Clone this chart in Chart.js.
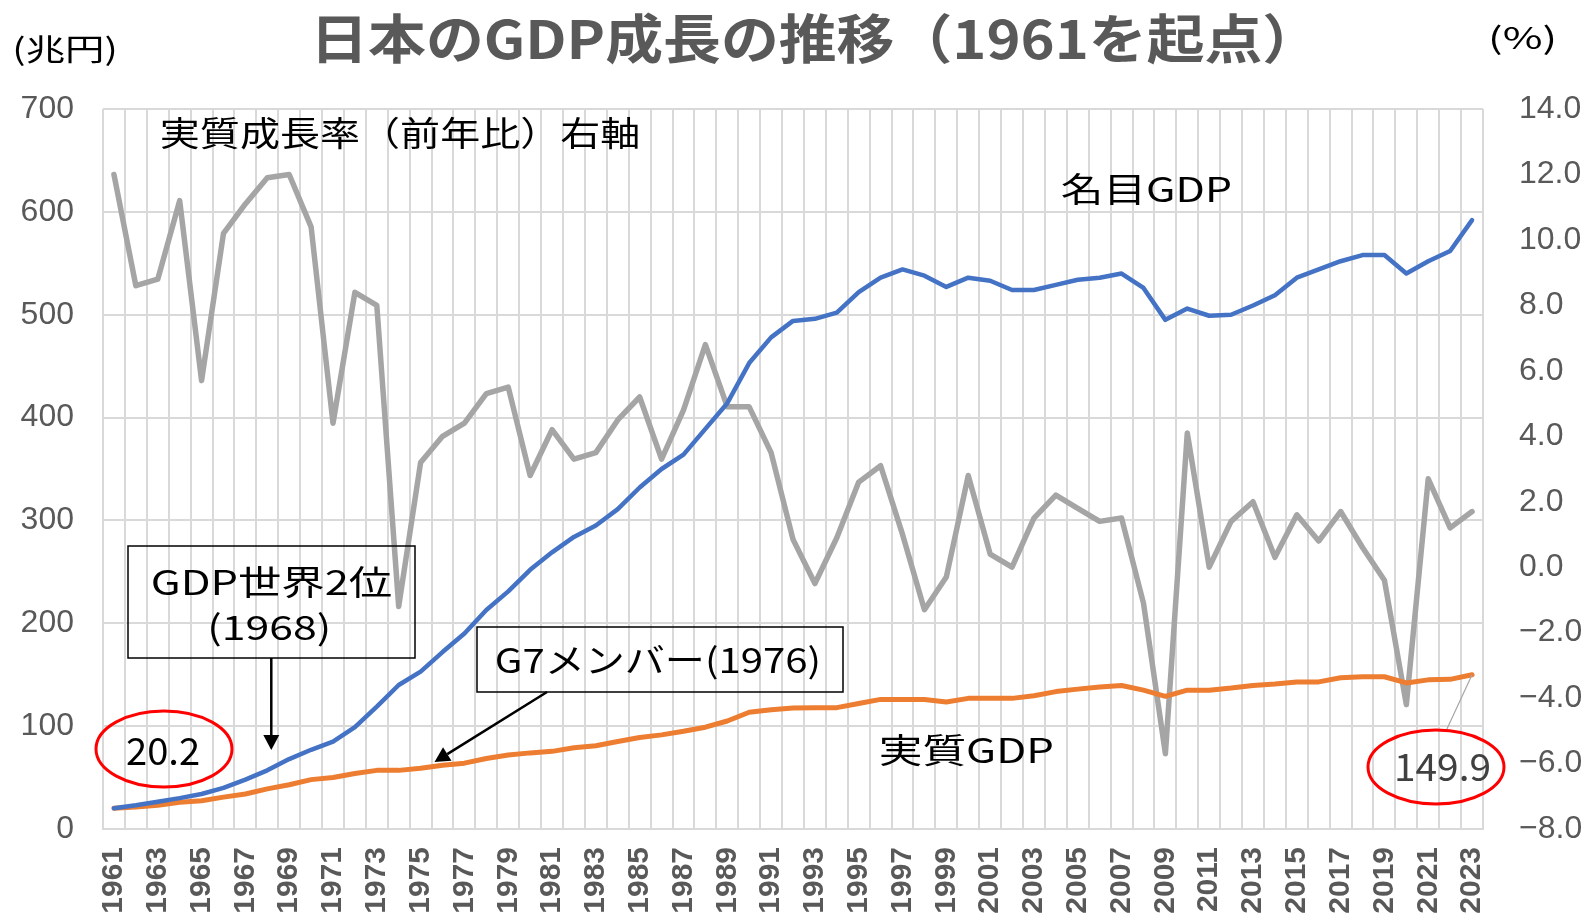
<!DOCTYPE html>
<html>
<head>
    <meta charset="UTF-8">
    <title>日本のGDP成長の推移</title>
    <script src="https://cdn.jsdelivr.net/npm/chart.js"></script>
    <style>
        html, body { margin: 0; padding: 0; background: #fff; }
        #wrap { width: 1583px; height: 915px; position: relative; }
    </style>
</head>

<body>
    <div id="wrap">
        <canvas id="gdpChart"></canvas>
    </div>

    <script>
        // 年（カテゴリ）
        const years = [
            '1961', '1962', '1963', '1964', '1965', '1966', '1967', '1968', '1969', '1970',
            '1971', '1972', '1973', '1974', '1975', '1976', '1977', '1978', '1979', '1980',
            '1981', '1982', '1983', '1984', '1985', '1986', '1987', '1988', '1989', '1990',
            '1991', '1992', '1993', '1994', '1995', '1996', '1997', '1998', '1999', '2000',
            '2001', '2002', '2003', '2004', '2005', '2006', '2007', '2008', '2009', '2010',
            '2011', '2012', '2013', '2014', '2015', '2016', '2017', '2018', '2019', '2020',
            '2021', '2022', '2023'
        ];

        // 名目GDP（兆円）
        const nominalGdp = [
            20.2, 23, 26.5, 30, 34, 40, 48, 57, 68, 77,
            85, 99, 119, 140, 153, 172, 190, 213, 231, 252,
            269, 284, 295, 311, 332, 350, 364, 389, 414, 453,
            478, 494, 496, 502, 522, 536, 544, 538, 527, 536,
            533, 524, 524, 529, 534, 536, 540, 526, 495, 506,
            499, 500, 509, 519, 536, 544, 552, 558, 558, 540,
            552, 562, 592
        ];

        // 実質GDP（兆円, 1961を起点）
        const realGdp = [
            20.2, 21.5, 23, 26, 27.5, 31, 34, 39, 43, 48,
            50, 54, 57, 57, 59, 62, 64, 68.6, 72, 74,
            75.5, 79, 81, 85, 89, 91.5, 95, 99, 105, 113.5,
            116, 117.6, 118, 118, 122, 126, 126, 126, 123.5, 127,
            127, 127, 129.5, 133.6, 136, 138, 139.5, 135, 129, 135,
            135, 137, 139.5, 141, 143, 143, 147, 148, 148, 142,
            145, 145.5, 149.9
        ];

        // 実質成長率（前年比, %）右軸
        const realGrowth = [
            12.0, 8.6, 8.8, 11.2, 5.7, 10.2, 11.1, 11.9, 12.0, 10.4,
            4.4, 8.4, 8.0, -1.2, 3.2, 4.0, 4.4, 5.3, 5.5, 2.8,
            4.2, 3.3, 3.5, 4.5, 5.2, 3.3, 4.8, 6.8, 4.9, 4.9,
            3.5, 0.85, -0.5, 0.9, 2.6, 3.1, 1.0, -1.3, -0.3, 2.8,
            0.4, 0.0, 1.5, 2.2, 1.8, 1.4, 1.5, -1.1, -5.7, 4.1,
            0.0, 1.4, 2.0, 0.3, 1.6, 0.8, 1.7, 0.6, -0.4, -4.2,
            2.7, 1.2, 1.7
        ];

        const leftTicks = [0, 100, 200, 300, 400, 500, 600, 700];
        const rightTicks = [-8, -6, -4, -2, 0, 2, 4, 6, 8, 10, 12, 14];

        const CJK = '"Noto Sans CJK JP", "Noto Sans", sans-serif';

        // glyph extents x0..x1, vertical glyph centre cy
        function drawText(ctx, text, o) {
            ctx.save();
            ctx.font = (o.bold ? 'bold ' : '') + o.size + 'px ' + CJK;
            ctx.fillStyle = o.color || '#000';
            ctx.textAlign = 'left';
            ctx.textBaseline = 'alphabetic';
            const m = ctx.measureText(text);
            const gl = -m.actualBoundingBoxLeft;
            const gw = m.actualBoundingBoxRight + m.actualBoundingBoxLeft;
            const sx = (o.x1 - o.x0) / gw;
            const base = o.cy + (m.actualBoundingBoxAscent - m.actualBoundingBoxDescent) / 2;
            ctx.translate(o.x0 - gl * sx, base);
            ctx.scale(sx, 1);
            ctx.fillText(text, 0, 0);
            ctx.restore();
        }

        function arrow(ctx, x0, y0, x1, y1) {
            const a = Math.atan2(y1 - y0, x1 - x0);
            const len = 15, half = 8;
            ctx.save();
            ctx.strokeStyle = '#000';
            ctx.fillStyle = '#000';
            ctx.lineWidth = 2.5;
            ctx.beginPath();
            ctx.moveTo(x0, y0);
            ctx.lineTo(x1 - Math.cos(a) * len, y1 - Math.sin(a) * len);
            ctx.stroke();
            ctx.beginPath();
            ctx.moveTo(x1, y1);
            ctx.lineTo(x1 - Math.cos(a) * len - Math.sin(a) * half, y1 - Math.sin(a) * len + Math.cos(a) * half);
            ctx.lineTo(x1 - Math.cos(a) * len + Math.sin(a) * half, y1 - Math.sin(a) * len - Math.cos(a) * half);
            ctx.closePath();
            ctx.fill();
            ctx.restore();
        }

        function ellipse(ctx, cx, cy, rx, ry) {
            ctx.save();
            ctx.strokeStyle = '#ff0000';
            ctx.lineWidth = 3;
            ctx.beginPath();
            ctx.ellipse(cx, cy, rx, ry, 0, 0, Math.PI * 2);
            ctx.stroke();
            ctx.restore();
        }

        function box(ctx, x0, y0, x1, y1) {
            ctx.save();
            ctx.strokeStyle = '#000';
            ctx.lineWidth = 1.5;
            ctx.strokeRect(x0, y0, x1 - x0, y1 - y0);
            ctx.restore();
        }

        const notesPlugin = {
            id: 'notes',
            afterDatasetsDraw(chart) {
                const { ctx, scales: { x, y } } = chart;
                const last = years.length - 1;

                // title and axis units
                drawText(ctx, '日本のGDP成長の推移（1961を起点）', { x0: 319, x1: 1282, cy: 38.5, size: 53, bold: true, color: '#595959' });
                drawText(ctx, '(兆円)', { x0: 15, x1: 115, cy: 50, size: 30 });
                drawText(ctx, '(%)', { x0: 1491, x1: 1554, cy: 39.5, size: 30 });

                // series labels
                drawText(ctx, '実質成長率（前年比）右軸', { x0: 161, x1: 638, cy: 132.5, size: 34 });
                drawText(ctx, '名目GDP', { x0: 1062, x1: 1230, cy: 189, size: 34 });
                drawText(ctx, '実質GDP', { x0: 880, x1: 1052, cy: 750, size: 34 });

                // GDP世界2位 box + arrow
                box(ctx, 128, 546, 415, 658);
                drawText(ctx, 'GDP世界2位', { x0: 152, x1: 391, cy: 582, size: 34 });
                drawText(ctx, '(1968)', { x0: 211, x1: 328, cy: 629, size: 34 });
                const x1968 = x.getPixelForValue(years.indexOf('1968'));
                arrow(ctx, x1968 + 4, 658, x1968 + 4, 750);

                // G7 box + arrow
                box(ctx, 477, 627, 843, 692);
                drawText(ctx, 'G7メンバー(1976)', { x0: 496, x1: 818, cy: 662, size: 34 });
                const x1976 = x.getPixelForValue(years.indexOf('1976'));
                arrow(ctx, 547, 692, x1976 - 8, 762);

                // start value
                ellipse(ctx, 164, 749, 68, 38);
                drawText(ctx, String(realGdp[0]), { x0: 127, x1: 199, cy: 751, size: 38 });

                // last real GDP value with leader line
                ctx.save();
                ctx.strokeStyle = '#a6a6a6';
                ctx.lineWidth = 1.2;
                ctx.beginPath();
                ctx.moveTo(1446, 731);
                ctx.lineTo(x.getPixelForValue(last), y.getPixelForValue(realGdp[last]));
                ctx.stroke();
                ctx.restore();
                ellipse(ctx, 1436, 767, 68, 37);
                drawText(ctx, realGdp[last].toFixed(1), { x0: 1397, x1: 1490, cy: 767, size: 38, color: '#404040' });
            }
        };

        const gridColor = '#d9d9d9';
        const lineStyle = { pointRadius: 0, tension: 0, borderJoinStyle: 'round', borderCapStyle: 'round' };

        const chart = new Chart(document.getElementById('gdpChart').getContext('2d'), {
            type: 'line',
            data: {
                labels: years,
                datasets: [
                    Object.assign({
                        label: '名目GDP',
                        data: nominalGdp,
                        yAxisID: 'y',
                        borderColor: '#4472C4',
                        borderWidth: 4.5
                    }, lineStyle),
                    Object.assign({
                        label: '実質GDP',
                        data: realGdp,
                        yAxisID: 'y',
                        borderColor: '#ED7D31',
                        borderWidth: 5
                    }, lineStyle),
                    Object.assign({
                        label: '実質成長率（前年比）',
                        data: realGrowth,
                        yAxisID: 'y1',
                        borderColor: '#A5A5A5',
                        borderWidth: 5.5
                    }, lineStyle)
                ]
            },
            options: {
                responsive: true,
                maintainAspectRatio: false,
                animation: false,
                layout: { padding: { top: 109 } },
                plugins: {
                    legend: { display: false },
                    title: { display: false },
                    tooltip: { enabled: false }
                },
                scales: {
                    x: {
                        offset: true,
                        grid: { offset: true, color: gridColor, lineWidth: 2, drawTicks: false },
                        border: { color: gridColor, width: 2 },
                        ticks: {
                            autoSkip: false,
                            minRotation: 90,
                            maxRotation: 90,
                            padding: 18,
                            color: '#595959',
                            font: { family: '"Liberation Sans", Arial', size: 30, weight: 'bold' },
                            callback: function (value, index) {
                                return index % 2 === 0 ? this.getLabelForValue(value) : '';
                            }
                        },
                        afterFit(scale) { scale.height = 86; }
                    },
                    y: {
                        position: 'left',
                        min: 0,
                        max: 700,
                        afterBuildTicks(scale) { scale.ticks = leftTicks.map(v => ({ value: v })); },
                        grid: { color: gridColor, lineWidth: 2, drawTicks: false },
                        border: { display: false },
                        ticks: {
                            padding: 29,
                            color: '#595959',
                            font: { family: '"Liberation Sans", Arial', size: 32 }
                        },
                        afterFit(scale) { scale.width = 103; }
                    },
                    y1: {
                        position: 'right',
                        min: -8,
                        max: 14,
                        afterBuildTicks(scale) { scale.ticks = rightTicks.map(v => ({ value: v })); },
                        grid: { display: false },
                        border: { display: false },
                        ticks: {
                            padding: 28,
                            color: '#595959',
                            font: { family: '"Liberation Sans", Arial', size: 32 },
                            callback: v => (v < 0 ? '−' + Math.abs(v).toFixed(1) : v.toFixed(1))
                        },
                        afterFit(scale) { scale.width = 100; }
                    }
                }
            },
            plugins: [notesPlugin]
        });
    </script>
</body>
</html>
